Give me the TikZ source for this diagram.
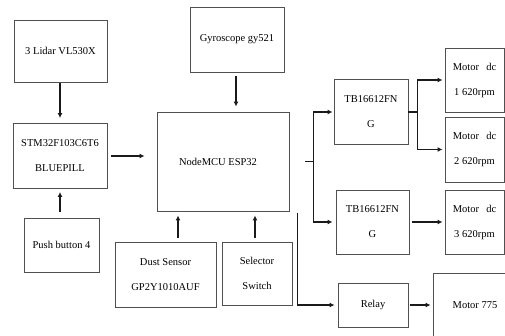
\documentclass[tikz,border=0pt]{standalone}
\usepackage{fontspec}
\setmainfont{Liberation Serif}
\usepackage{tikz}
\usetikzlibrary{
  arrows.meta,
  positioning,
  calc
}
\definecolor{bdEdge}{HTML}{505050}
\definecolor{bdLine}{HTML}{1A1A1A}
\tikzset{
  bdnode/.style={
    draw=bdEdge, line width=0.9pt, align=center, inner sep=1pt,
    font=\fontsize{10.5}{25}\selectfont
  },
  bdbox/.style n args={2}{bdnode, minimum width=#1, minimum height=#2},
  wire/.style={line width=1.3pt, bdLine},
  flow/.style={wire, -{Latex[length=5pt, width=5pt]}}
}
\begin{document}
\begin{tikzpicture}[x=1pt, y=-1pt]
  \useasboundingbox (0,0) rectangle (505,335);
  % left column
  \node[bdbox={93pt}{62pt}] (lidar) at (60.5,51) {3 Lidar VL530X};
  \node[bdbox={94pt}{65pt}] (stm) at (60,156) {STM32F103C6T6\\BLUEPILL};
  \node[bdbox={75pt}{54pt}] (push) at (61.5,245) {Push button 4};
  % controller and its inputs
  \node[bdbox={94pt}{65pt}] (gyro) at (237,39.5) {Gyroscope gy521};
  \node[bdbox={132pt}{99pt}] (esp) at (223,161.5) {NodeMCU ESP32\hspace{10pt}};
  \node[bdbox={101pt}{65pt}] (dust) at (165.5,274.5) {Dust Sensor\\GP2Y1010AUF};
  \node[bdbox={70pt}{63pt}] (sel) at (257,273.5) {Selector\\Switch};
  % drivers and motors
  \node[bdbox={74pt}{65pt}] (tbA) at (371,112) {TB16612FN\\G};
  \node[bdbox={73pt}{64pt}] (tbB) at (372.5,222) {TB16612FN\\G};
  \node[bdbox={59pt}{64pt}] (motA) at (474.5,80) {Motor\hspace{0.7em}dc\\1 620rpm};
  \node[bdbox={59pt}{65pt}] (motB) at (474.5,149.5) {Motor\hspace{0.7em}dc\\2 620rpm};
  \node[bdbox={59pt}{64pt}] (motC) at (474.5,222) {Motor\hspace{0.7em}dc\\3 620rpm};
  \node[bdbox={70pt}{44pt}] (relay) at (373,305) {Relay};
  \node[bdbox={84pt}{64pt}] (m775) at (475,305) {Motor 775};
  % forks
  \coordinate (split) at ([xshift=24pt]esp.east);
  \coordinate (rtop) at ([shift={(8,2)}]esp.south east);
  \coordinate (fork) at ([xshift=9pt]tbA.east);
  % connectors
  \draw[flow, shorten <=1pt, shorten >=5pt] (stm.north |- lidar.south) -- (stm.north);
  \draw[flow, shorten <=6pt, shorten >=3pt] (push.north -| stm.south) -- (stm.south);
  \draw[flow, shorten <=4pt, shorten >=12pt] (stm.east) -- (stm.east -| esp.west);
  \draw[flow, shorten <=4pt, shorten >=5pt] ([xshift=-1pt]gyro.south) -- ([xshift=-1pt]gyro.south |- esp.north);
  \draw[flow, shorten <=4pt, shorten >=4pt] ([xshift=12.5pt]dust.north) -- ([xshift=12.5pt]dust.north |- esp.south);
  \draw[flow, shorten <=4pt, shorten >=4pt] ([xshift=-2pt]sel.north) -- ([xshift=-2pt]sel.north |- esp.south);
  \draw[wire] ([xshift=16pt]esp.east) -- (split);
  \draw[flow, shorten >=1pt] (split) |- (tbA.west);
  \draw[flow, shorten >=3pt] (split) |- (tbB.west);
  \draw[flow, shorten >=3pt] (rtop) |- (relay.west);
  \draw[wire] (tbA.east) -- (fork);
  \draw[flow, shorten >=2pt] (fork) |- (motA.west);
  \draw[flow, shorten >=2pt] (fork) |- (motB.west);
  \draw[flow, shorten <=3pt, shorten >=2pt] (tbB) -- (motC);
  \draw[flow, shorten <=2pt, shorten >=2pt] (relay) -- (m775);
\end{tikzpicture}
\end{document}
